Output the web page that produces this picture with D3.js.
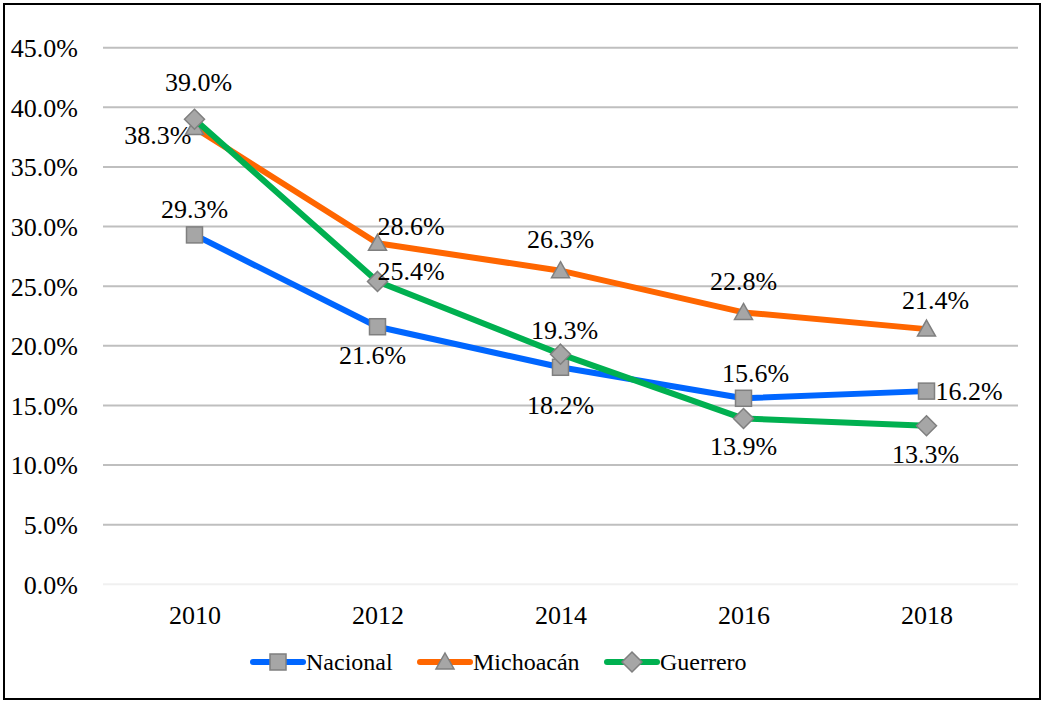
<!DOCTYPE html>
<html>
<head>
<meta charset="utf-8">
<script src="https://cdn.jsdelivr.net/npm/d3@7"></script>
</head>
<body style="margin:0">
<svg id="chart" width="1045" height="703" font-family="Liberation Serif"></svg>
<script>
// Data
const years = ['2010', '2012', '2014', '2016', '2018'];
const nacional = [29.3, 21.6, 18.2, 15.6, 16.2];
const michoacan = [38.3, 28.6, 26.3, 22.8, 21.4];
const guerrero = [39.0, 25.4, 19.3, 13.9, 13.3];
const yTicks = [0, 5, 10, 15, 20, 25, 30, 35, 40, 45];

// Label placement (dx, dy, anchor) per point, as placed on the original
const nacionalLabels = [[0, -26, 'middle'], [-5, 28, 'middle'], [0, 38, 'middle'], [12, -25, 'middle'], [9, 0, 'start']];
const michoacanLabels = [[-3, 8, 'end'], [0, -17, 'start'], [0, -32, 'middle'], [0, -31, 'middle'], [9, -29, 'middle']];
const guerreroLabels = [[4, -37, 'middle'], [0, -10, 'start'], [4, -24, 'middle'], [0, 28, 'middle'], [-1, 28, 'middle']];

const series = [
  { name: 'Nacional', values: nacional, color: '#0066ff', marker: 'square', labels: nacionalLabels },
  { name: 'Michoacán', values: michoacan, color: '#ff6600', marker: 'triangle', labels: michoacanLabels },
  { name: 'Guerrero', values: guerrero, color: '#00b050', marker: 'diamond', labels: guerreroLabels }
];

const svg = d3.select('#chart');
const plot = { left: 103, right: 1018, top: 47.7, bottom: 584.3 };

// outer frame
svg.append('rect')
  .attr('x', 4).attr('y', 4).attr('width', 1036).attr('height', 695)
  .attr('fill', '#fff').attr('stroke', '#000').attr('stroke-width', 2);

const x = d3.scalePoint().domain(years).range([plot.left, plot.right]).padding(0.5);
const y = d3.scaleLinear().domain([0, 45]).range([plot.bottom, plot.top]);

// gridlines
svg.append('g').selectAll('line').data(yTicks).join('line')
  .attr('x1', plot.left).attr('x2', plot.right)
  .attr('y1', d => y(d)).attr('y2', d => y(d))
  .attr('stroke', d => d === 0 ? '#f0f0f0' : '#bfbfbf')
  .attr('stroke-width', 2);

// y axis labels
const yAxis = d3.axisLeft(y).tickValues(yTicks).tickSize(0).tickPadding(0)
  .tickFormat(d => d.toFixed(1) + '%');
const gy = svg.append('g').attr('transform', 'translate(78,0)').call(yAxis);
gy.select('.domain').remove();
gy.attr('font-family', 'Liberation Serif').attr('font-size', 26);
gy.selectAll('text').attr('font-family', 'Liberation Serif').attr('font-size', 26)
  .attr('fill', '#000').attr('dy', '0.34em');

// x axis labels
const xAxis = d3.axisBottom(x).tickSize(0).tickPadding(0);
const gx = svg.append('g').attr('transform', 'translate(0,615)').call(xAxis);
gx.select('.domain').remove();
gx.attr('font-family', 'Liberation Serif').attr('font-size', 26);
gx.selectAll('text').attr('font-family', 'Liberation Serif').attr('font-size', 26)
  .attr('fill', '#000').attr('dy', '0.34em');

function drawMarker(g, type) {
  const mFill = '#a6a6a6', mStroke = '#7f7f7f';
  if (type === 'square') {
    g.append('rect').attr('x', -8).attr('y', -8).attr('width', 16).attr('height', 16)
      .attr('fill', mFill).attr('stroke', mStroke).attr('stroke-width', 1.5);
  } else if (type === 'triangle') {
    g.append('path').attr('d', 'M0,-9L9,7L-9,7Z')
      .attr('fill', mFill).attr('stroke', mStroke).attr('stroke-width', 1.5);
  } else {
    g.append('path').attr('d', 'M0,-10L10,0L0,10L-10,0Z')
      .attr('fill', mFill).attr('stroke', mStroke).attr('stroke-width', 1.5);
  }
}

const line = d3.line().x((d, i) => x(years[i])).y(d => y(d));

series.forEach(s => {
  const g = svg.append('g');
  g.append('path').datum(s.values)
    .attr('d', line)
    .attr('fill', 'none')
    .attr('stroke', s.color)
    .attr('stroke-width', 6)
    .attr('stroke-linejoin', 'round')
    .attr('stroke-linecap', 'round');
  s.values.forEach((v, i) => {
    const m = g.append('g').attr('transform', `translate(${x(years[i])},${y(v)})`);
    drawMarker(m, s.marker);
  });
});

// data labels on top
series.forEach(s => {
  svg.append('g').selectAll('text').data(s.values).join('text')
    .attr('x', (d, i) => x(years[i]) + s.labels[i][0])
    .attr('y', (d, i) => y(d) + s.labels[i][1])
    .attr('dy', '0.34em')
    .attr('text-anchor', (d, i) => s.labels[i][2])
    .attr('font-family', 'Liberation Serif').attr('font-size', 26)
    .attr('fill', '#000')
    .text(d => d.toFixed(1) + '%');
});

// legend
const legendX = [253, 420, 607];
const legendY = 662;
series.forEach((s, i) => {
  const g = svg.append('g').attr('transform', `translate(${legendX[i]},${legendY})`);
  g.append('line').attr('x1', 0).attr('x2', 50).attr('y1', 0).attr('y2', 0)
    .attr('stroke', s.color).attr('stroke-width', 6).attr('stroke-linecap', 'round');
  drawMarker(g.append('g').attr('transform', 'translate(25,0)'), s.marker);
  g.append('text').attr('x', 53).attr('y', 0).attr('dy', '0.34em')
    .attr('font-family', 'Liberation Serif').attr('font-size', 24)
    .attr('fill', '#000').text(s.name);
});
</script>
</body>
</html>
